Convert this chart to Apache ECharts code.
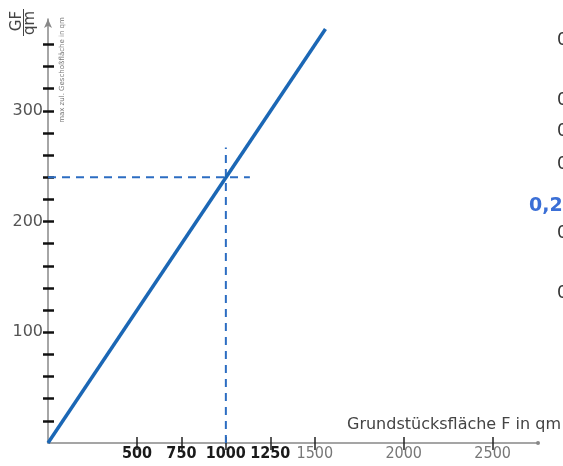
<!DOCTYPE html>
<html><head><meta charset="utf-8">
<script src="https://cdn.jsdelivr.net/npm/echarts@6/dist/echarts.min.js"></script>
<style>html,body{margin:0;padding:0;background:#fff}#c{width:563px;height:466px}</style>
</head><body><div id="c"></div>
<script>
// data
const lineF = [0, 1560];
const lineGF = [0, 374];
const readF = [1000, 1000];
const readGFv = [0, 267];
const readFh = [0, 1135];
const readGFh = [240, 240];
const xTickValues = [500, 750, 1000, 1250, 1500, 2000, 2500];
const xBoldTicks = [500, 750, 1000, 1250];
const yTickValues = [20,40,60,80,100,120,140,160,180,200,220,240,260,280,300,320,340,360];
const yLabelValues = [100, 200, 300];
const sideLabels = ['0,30','0,28','0,27','0,26','0,25','0,22'];
const sideLabelY = [42, 102, 133, 166, 235, 295];
const highlightLabel = '0,24';
const xName = 'Grundstücksfläche F in qm';
const yNameTop = 'GF';
const yNameBottom = 'qm';
const ySub = 'max zul. Geschoßfläche in qm';

const chart = echarts.init(document.getElementById('c'), null, {renderer:'canvas'});
const xMin = 0, xMax = 2755, yMin = 0, yMax = 383;
const graphics = [];
sideLabels.forEach((t,i)=>graphics.push({type:'text',left:557,top:sideLabelY[i]-10,style:{text:t,fill:'#333',font:'17px "DejaVu Sans"'}}));
graphics.push({type:'text',left:529,top:197,style:{text:highlightLabel,fill:'#3b6fd6',font:'bold 19px "DejaVu Sans"'}});
graphics.push({type:'text',right:2,top:417,style:{text:xName,fill:'#444',font:'16px "DejaVu Sans"'}});
graphics.push({type:'text',x:17,y:21,rotation:Math.PI/2,style:{text:yNameTop,fill:'#444',font:'15px "DejaVu Sans"',align:'center',verticalAlign:'middle'}});
graphics.push({type:'line',shape:{x1:23.5,y1:9,x2:23.5,y2:36},style:{stroke:'#444',lineWidth:1}});
graphics.push({type:'text',x:30,y:23,rotation:Math.PI/2,style:{text:yNameBottom,fill:'#444',font:'15px "DejaVu Sans"',align:'center',verticalAlign:'middle'}});
graphics.push({type:'text',x:62,y:70,rotation:Math.PI/2,style:{text:ySub,fill:'#777',font:'7px "DejaVu Sans"',align:'center',verticalAlign:'middle'}});

const option = {
  animation:false,
  backgroundColor:'#fff',
  grid:{left:48,right:25,top:19,bottom:23,containLabel:false},
  xAxis:[{
    type:'value',min:xMin,max:xMax,
    axisLine:{show:true,lineStyle:{color:'#888',width:1.5},symbol:['none','circle'],symbolSize:[4,4]},
    axisTick:{show:true,customValues:xTickValues,length:7,lineStyle:{color:'#222',width:1.5}},
    axisLabel:{customValues:xTickValues,margin:3,
      formatter:v=>xBoldTicks.indexOf(v)>=0?'{b|'+v+'}':'{l|'+v+'}',
      rich:{b:{fontFamily:'"DejaVu Sans Condensed","DejaVu Sans"',fontWeight:'bold',fontSize:16,color:'#1a1a1a'},
            l:{fontFamily:'"DejaVu Sans Condensed","DejaVu Sans"',fontSize:16,color:'#777'}}},
    splitLine:{show:false}
  },{
    type:'value',min:xMin,max:xMax,position:'bottom',
    axisLine:{show:false},
    axisTick:{show:true,inside:true,customValues:xTickValues,length:6,lineStyle:{color:'#222',width:1.5}},
    axisLabel:{show:false},splitLine:{show:false}
  }],
  yAxis:[{
    type:'value',min:yMin,max:yMax,
    axisLine:{show:true,lineStyle:{color:'#888',width:1.5},symbol:['none','arrow'],symbolSize:[6,9]},
    axisTick:{show:true,customValues:yTickValues,length:5,lineStyle:{color:'#111',width:2.5}},
    axisLabel:{customValues:yLabelValues,margin:5,color:'#555',fontSize:16,fontFamily:'"DejaVu Sans"'},
    splitLine:{show:false}
  },{
    type:'value',min:yMin,max:yMax,position:'left',offset:0,
    axisLine:{show:false},
    axisTick:{show:true,inside:true,customValues:yTickValues,length:6,lineStyle:{color:'#111',width:2.5}},
    axisLabel:{show:false},splitLine:{show:false}
  }],
  series:[
    {type:'line',data:lineF.map((f,i)=>[f,lineGF[i]]),symbol:'none',lineStyle:{color:'#1b67b5',width:3.5},z:5},
    {type:'line',data:readF.map((f,i)=>[f,readGFv[i]]),symbol:'none',lineStyle:{color:'#2c6dc2',width:2,type:[8,6]}},
    {type:'line',data:readFh.map((f,i)=>[f,readGFh[i]]),symbol:'none',lineStyle:{color:'#2c6dc2',width:2,type:[8,6]}}
  ],
  graphic:graphics
};
chart.setOption(option);
</script></body></html>
